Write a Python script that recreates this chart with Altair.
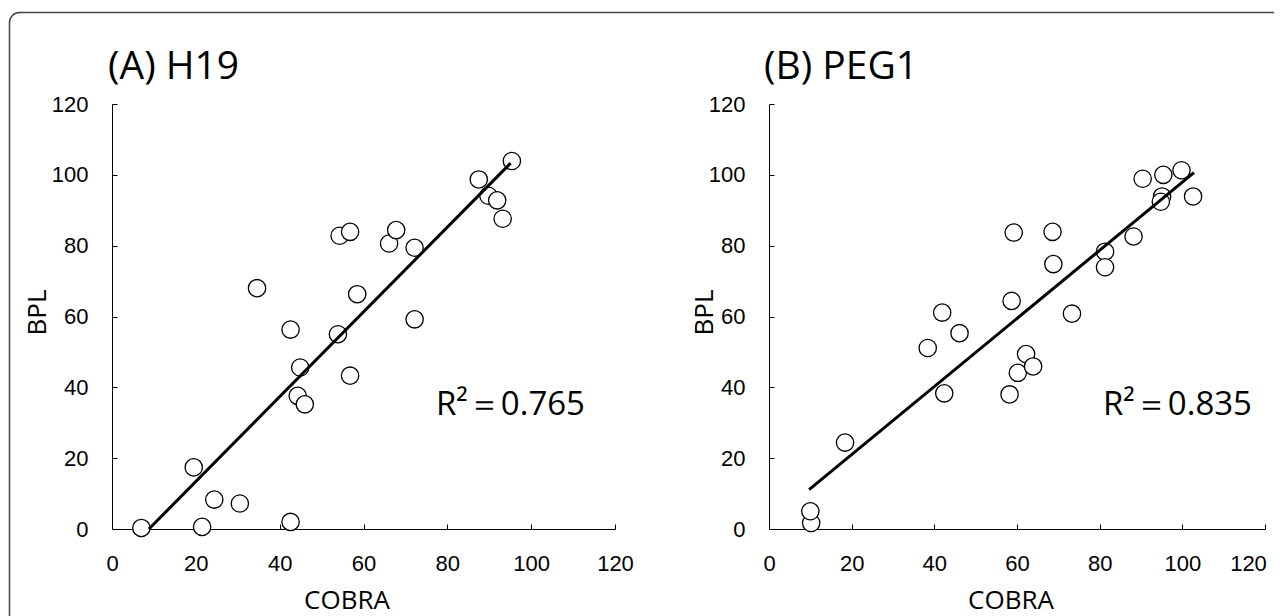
import altair as alt
import pandas as pd

# ---- data ----
h19_cobra = [7.0, 19.5, 21.5, 24.4, 30.5, 34.6, 42.6, 42.6, 44.9, 44.3, 46.0, 53.9, 54.3,
             56.8, 56.8, 58.5, 66.1, 67.8, 72.2, 72.2, 87.5, 89.8, 91.9, 93.2, 95.4]
h19_bpl = [0.3, 17.4, 0.6, 8.3, 7.2, 68.0, 56.3, 2.0, 45.6, 37.6, 35.2, 55.0, 82.8,
           83.9, 43.3, 66.3, 80.6, 84.4, 79.4, 59.2, 98.7, 94.1, 92.8, 87.6, 103.9]
h19_fit_cobra = [8.8, 95.1]
h19_fit_bpl = [0.0, 103.3]

peg1_cobra = [10.2, 10.0, 18.4, 38.4, 41.9, 42.4, 46.1, 58.2, 58.7, 59.2, 60.2, 62.2, 63.9,
              68.6, 68.8, 73.3, 81.3, 81.3, 88.2, 90.4, 95.1, 94.8, 95.4, 99.8, 102.6]
peg1_bpl = [1.7, 5.0, 24.4, 51.1, 61.1, 38.3, 55.3, 38.0, 64.4, 83.7, 44.1, 49.4, 45.9,
            83.9, 74.8, 60.8, 78.3, 73.9, 82.6, 98.9, 93.9, 92.4, 100.0, 101.3, 93.9]
peg1_fit_cobra = [9.7, 102.8]
peg1_fit_bpl = [11.1, 100.6]

tick_values = [0, 20, 40, 60, 80, 100, 120]
inner_ticks = [20, 40, 60, 80, 100, 120]
titles = ["(A) H19", "(B) PEG1"]
r2_labels = ["R²＝0.765", "R²＝0.835"]
x_title = "COBRA"
y_title = "BPL"

H = 425
W_LEFT = 503
W_RIGHT = 496
TICK_FONT = "Liberation Sans"
TEXT_FONT = "Open Sans"


def text_layer(txt, x, y, size, align="left", angle=0):
    return alt.Chart(alt.Data(values=[{"t": txt}])).mark_text(
        font=TEXT_FONT, fontSize=size, align=align, baseline="alphabetic",
        color="black", angle=angle
    ).encode(x=alt.value(x), y=alt.value(y), text="t:N")


def panel(xs_vals, ys_vals, fx, fy, title, r2, width, xt_x, yt_x, r2_x, title_x, last_shift):
    df = pd.DataFrame({"COBRA": xs_vals, "BPL": ys_vals})
    fit = pd.DataFrame({"COBRA": fx, "BPL": fy})
    xs = alt.Scale(domain=[0, 120], nice=False, zero=False)
    ys = alt.Scale(domain=[0, 120], nice=False, zero=False)
    main_x = alt.Axis(orient="bottom", values=tick_values, ticks=False, tickSize=0,
                      labelPadding=24, labelFont=TICK_FONT, labelFontSize=22,
                      labelColor="black", domainColor="black", domainWidth=1,
                      grid=False, title=None, labelFlush=False, labelOverlap=False,
                      labelOffset={"condition": {"test": "datum.value == 120",
                                                 "value": last_shift}, "value": 0})
    main_y = alt.Axis(orient="left", values=tick_values, ticks=False, tickSize=0,
                      labelPadding=24, labelFont=TICK_FONT, labelFontSize=22,
                      labelColor="black", domainColor="black", domainWidth=1,
                      grid=False, title=None, labelOverlap=False)
    tick_x = alt.Axis(orient="top", offset=-H, values=inner_ticks, labels=False,
                      domain=False, ticks=True, tickSize=5, tickColor="black",
                      tickWidth=1, grid=False, title=None)
    tick_y = alt.Axis(orient="right", offset=-width, values=inner_ticks, labels=False,
                      domain=False, ticks=True, tickSize=5, tickColor="black",
                      tickWidth=1, grid=False, title=None)

    pts = alt.Chart(df).mark_point(
        shape="circle", filled=True, fill="white", stroke="black", strokeWidth=1.3,
        size=300, opacity=1
    ).encode(x=alt.X("COBRA:Q", scale=xs, axis=main_x),
             y=alt.Y("BPL:Q", scale=ys, axis=main_y))
    line = alt.Chart(fit).mark_line(color="black", strokeWidth=3).encode(
        x=alt.X("COBRA:Q", scale=xs, axis=tick_x),
        y=alt.Y("BPL:Q", scale=ys, axis=tick_y))

    layers = [pts, line,
              text_layer(title, title_x, -25, 39),
              text_layer(r2, r2_x, 311, 33),
              text_layer(x_title, xt_x, 505, 26, align="center"),
              text_layer(y_title, yt_x, 208.5, 26, align="center", angle=270)]
    return layers


left_layers = panel(h19_cobra, h19_bpl, h19_fit_cobra, h19_fit_bpl, titles[0], r2_labels[0],
                    W_LEFT, 235, -66, 324, -4, 0)
right_layers = panel(peg1_cobra, peg1_bpl, peg1_fit_cobra, peg1_fit_bpl, titles[1], r2_labels[1],
                     W_RIGHT, 242, -56, 334, -5, -17)

# figure frame (top/left edges with a rounded corner)
one = alt.Data(values=[{"k": 1}])
FL, FT, R = -102.5, -91.5, 10
frame_top = alt.Chart(one).mark_rule(color="#444", strokeWidth=1.5, strokeCap="butt").encode(
    x=alt.value(FL + R), x2=alt.value(1162), y=alt.value(FT))
frame_left = alt.Chart(one).mark_rule(color="#444", strokeWidth=1.5, strokeCap="butt").encode(
    x=alt.value(FL), y=alt.value(FT + R), y2=alt.value(512))
frame_corner = alt.Chart(one).mark_arc(
    radius=R, radius2=R, theta=4.71238898, theta2=6.28318531,
    stroke="#444", strokeWidth=1.5, fillOpacity=0, strokeJoin="round"
).encode(x=alt.value(FL + R), y=alt.value(FT + R))

left = alt.layer(*left_layers, frame_top, frame_left, frame_corner).resolve_axis(
    x="independent", y="independent").properties(width=W_LEFT, height=H)
right = alt.layer(*right_layers).resolve_axis(
    x="independent", y="independent").properties(width=W_RIGHT, height=H)

chart = alt.hconcat(left, right, spacing=154, bounds="flush").properties(
    padding={"left": 0, "top": 3, "right": 0, "bottom": 0},
    background="white"
).configure_view(stroke=None)

chart.save("out.html", embed_options={"renderer": "svg", "actions": False})
